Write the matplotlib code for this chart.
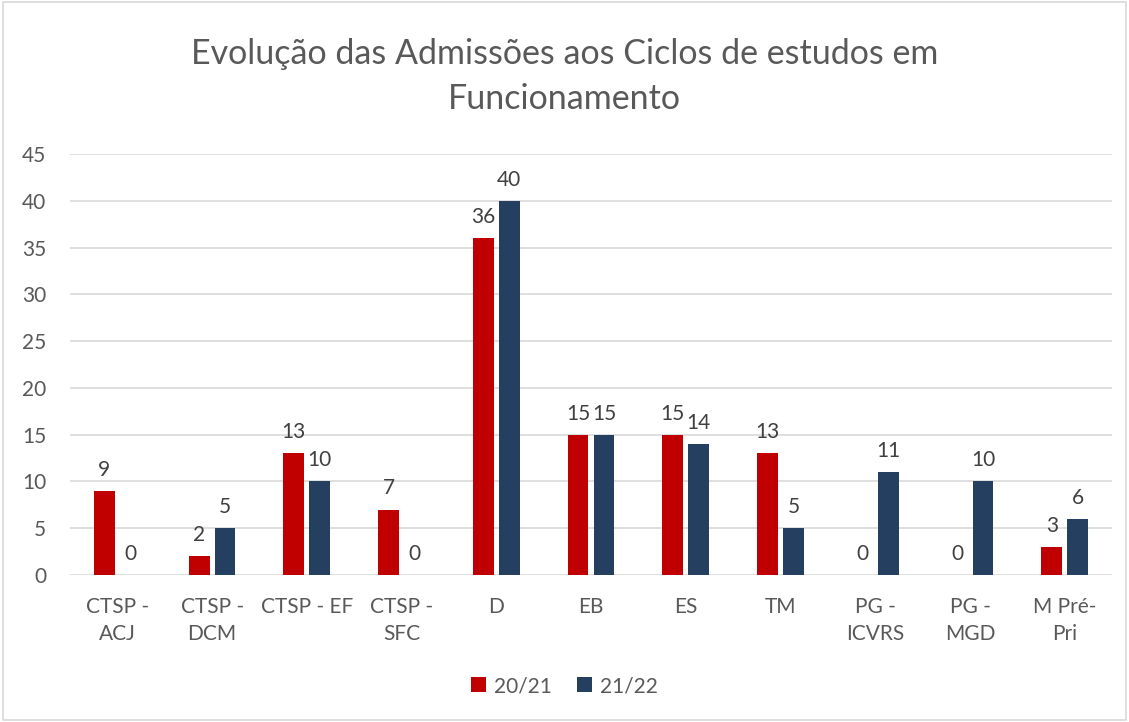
import matplotlib.pyplot as plt
import numpy as np

categories = ['CTSP -\nACJ', 'CTSP -\nDCM', 'CTSP - EF', 'CTSP -\nSFC', 'D', 'EB', 'ES', 'TM',
              'PG -\nICVRS', 'PG -\nMGD', 'M Pré-\nPri']
series_2021 = [9, 2, 13, 7, 36, 15, 15, 13, 0, 0, 3]
series_2122 = [0, 5, 10, 0, 40, 15, 14, 5, 11, 10, 6]
legend_labels = ['20/21', '21/22']

plt.rcParams['font.family'] = ['Lato', 'DejaVu Sans']
txt = '#595959'

fig = plt.figure(figsize=(11.29, 7.22), dpi=100)
ax = fig.add_axes([0.062, 0.2036, 0.923, 0.583])

x = np.arange(len(categories))
w = 0.22
off = 0.137
b1 = ax.bar(x - off, series_2021, w, color='#C00000', label=legend_labels[0], zorder=3)
b2 = ax.bar(x + off, series_2122, w, color='#243F60', label=legend_labels[1], zorder=3)

for bars in (b1, b2):
    for r in bars:
        ax.annotate(str(int(r.get_height())), (r.get_x() + r.get_width() / 2, r.get_height()),
                    xytext=(0, 8), textcoords='offset points', ha='center', va='bottom',
                    fontsize=15, color='#404040')

ax.set_xlim(-0.5, len(categories) - 0.5)
ax.set_ylim(0, 45)
ax.set_yticks(range(0, 46, 5))
ax.set_xticks(x)
ax.set_xticklabels(categories, fontsize=15, color=txt, linespacing=1.4)
ax.tick_params(axis='y', labelsize=15, colors=txt, length=0, pad=17)
ax.tick_params(axis='x', length=0, pad=16)
ax.grid(axis='y', color='#D9D9D9', linewidth=1.2, zorder=0)
for s in ax.spines.values():
    s.set_visible(False)

fig.suptitle('Evolução das Admissões aos Ciclos de estudos em\nFuncionamento', fontsize=24.5,
             color=txt, y=0.947, linespacing=1.5)

fig.legend(loc='lower center', bbox_to_anchor=(0.5, 0.01), ncol=2, frameon=False,
           fontsize=15, labelcolor=txt, handlelength=0.7, handleheight=0.7,
           columnspacing=1.2, handletextpad=0.4)

fig.patches.append(plt.Rectangle((0.003, 0.003), 0.994, 0.994, transform=fig.transFigure,
                                 fill=False, edgecolor='#D9D9D9', linewidth=1.2))

fig.savefig('out.png', dpi=100)
